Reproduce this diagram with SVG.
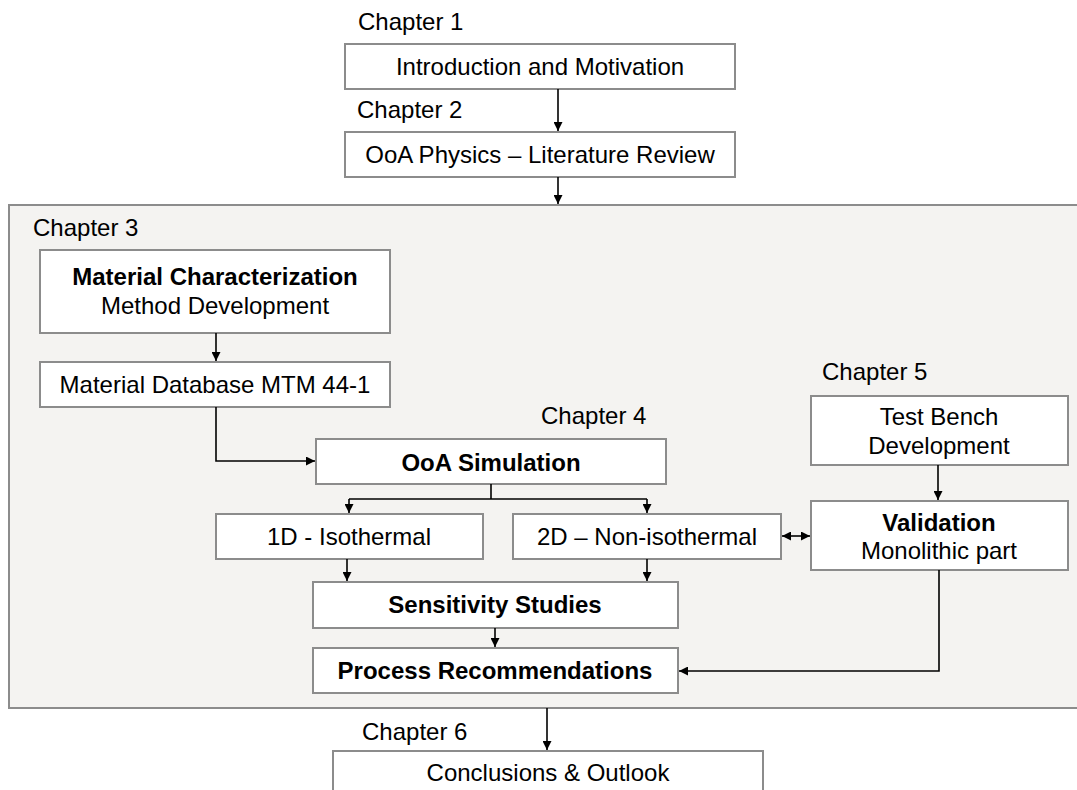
<svg xmlns="http://www.w3.org/2000/svg" width="1077" height="790" viewBox="0 0 1077 790">
<defs>
<marker id="ah" viewBox="0 0 10 10" refX="10" refY="5" markerWidth="9" markerHeight="9" markerUnits="userSpaceOnUse" orient="auto-start-reverse">
<path d="M0,0 L10,5 L0,10 Z" fill="#000"/>
</marker>
<style>
.box{fill:#fff;stroke:#8c8c8c;stroke-width:2}
.t{font-family:"Liberation Sans",Arial,sans-serif;font-size:24px;fill:#000}
.b{font-weight:bold}
.m{text-anchor:middle}
.c{fill:none;stroke:#000;stroke-width:1.6}
</style>
</defs>
<rect width="1077" height="790" fill="#fff"/>
<g id="chapter3-container">
<rect x="9" y="205" width="1080" height="503" fill="#f4f3f1" stroke="#8c8c8c" stroke-width="2"/>
</g>
<g id="labels">
<text class="t" x="358" y="30">Chapter 1</text>
<text class="t" x="357" y="118">Chapter 2</text>
<text class="t" x="33" y="236">Chapter 3</text>
<text class="t" x="541" y="424">Chapter 4</text>
<text class="t" x="822" y="380">Chapter 5</text>
<text class="t" x="362" y="740">Chapter 6</text>
</g>
<g id="n-intro">
<rect class="box" x="345" y="44" width="390" height="45"/>
<text class="t m" x="540" y="75">Introduction and Motivation</text>
</g>
<g id="n-ooa-physics">
<rect class="box" x="345" y="132" width="390" height="45"/>
<text class="t m" x="540" y="163">OoA Physics – Literature Review</text>
</g>
<g id="n-matchar">
<rect class="box" x="40" y="250" width="350" height="83"/>
<text class="t m b" x="215" y="285">Material Characterization</text>
<text class="t m" x="215" y="314">Method Development</text>
</g>
<g id="n-matdb">
<rect class="box" x="40" y="362" width="350" height="45"/>
<text class="t m" x="215" y="393">Material Database MTM 44-1</text>
</g>
<g id="n-ooasim">
<rect class="box" x="316" y="439" width="350" height="45"/>
<text class="t m b" x="491" y="471">OoA Simulation</text>
</g>
<g id="n-1d">
<rect class="box" x="216" y="514" width="267" height="45"/>
<text class="t m" x="349" y="545">1D - Isothermal</text>
</g>
<g id="n-2d">
<rect class="box" x="513" y="514" width="268" height="45"/>
<text class="t m" x="647" y="545">2D – Non-isothermal</text>
</g>
<g id="n-testbench">
<rect class="box" x="811" y="396" width="257" height="69"/>
<text class="t m" x="939" y="425">Test Bench</text>
<text class="t m" x="939" y="454">Development</text>
</g>
<g id="n-validation">
<rect class="box" x="811" y="501" width="257" height="69"/>
<text class="t m b" x="939" y="531">Validation</text>
<text class="t m" x="939" y="559">Monolithic part</text>
</g>
<g id="n-sensitivity">
<rect class="box" x="313" y="582" width="365" height="46"/>
<text class="t m b" x="495" y="613">Sensitivity Studies</text>
</g>
<g id="n-process">
<rect class="box" x="313" y="648" width="365" height="45"/>
<text class="t m b" x="495" y="679">Process Recommendations</text>
</g>
<g id="n-conclusions">
<rect class="box" x="333" y="751" width="430" height="50"/>
<text class="t m" x="548" y="781">Conclusions &amp; Outlook</text>
</g>
<g id="connectors">
<path class="c" d="M558,89 V131" marker-end="url(#ah)"/>
<path class="c" d="M558,177 V204" marker-end="url(#ah)"/>
<path class="c" d="M216,333 V361" marker-end="url(#ah)"/>
<path class="c" d="M216,407 V461 H315" marker-end="url(#ah)"/>
<path class="c" d="M491,484 V499"/>
<path class="c" d="M349,499 H647"/>
<path class="c" d="M349,499 V513" marker-end="url(#ah)"/>
<path class="c" d="M647,499 V513" marker-end="url(#ah)"/>
<path class="c" d="M347,559 V581" marker-end="url(#ah)"/>
<path class="c" d="M647,559 V581" marker-end="url(#ah)"/>
<path class="c" d="M495,628 V647" marker-end="url(#ah)"/>
<path class="c" d="M938,465 V500" marker-end="url(#ah)"/>
<path class="c" d="M782,536 H810" marker-start="url(#ah)" marker-end="url(#ah)"/>
<path class="c" d="M939,570 V671 H679" marker-end="url(#ah)"/>
<path class="c" d="M547,708 V750" marker-end="url(#ah)"/>
</g>
</svg>
